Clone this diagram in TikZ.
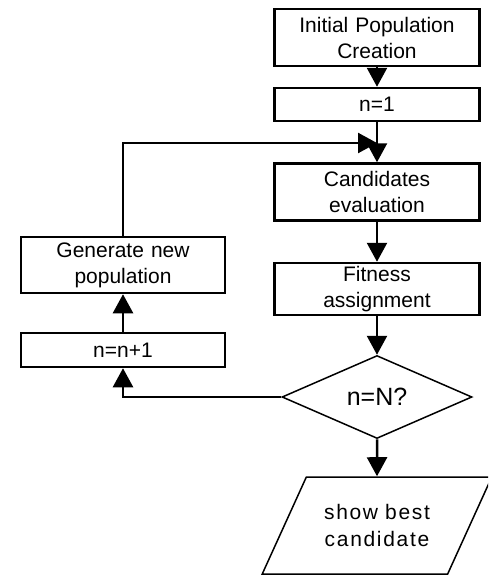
\documentclass[tikz,border=0pt]{standalone}
\usepackage{fontspec}
\setmainfont{Liberation Sans}
\usetikzlibrary{shapes.geometric, arrows.meta, positioning}

\begin{document}
\begin{tikzpicture}[
    x=1pt, y=-1pt,
    >={Triangle[width=20pt, length=19pt]}, line width=2.5pt,
    process/.style={rectangle, draw=black, fill=white, text width=205pt, align=center, inner sep=0pt, font=\fontsize{21}{26}\selectfont},
    decision/.style={diamond, aspect=2.3, draw=black, fill=white, line width=1.5pt, minimum width=190pt, minimum height=83pt, inner sep=0pt, font=\fontsize{25}{30}\selectfont},
    result/.style={trapezium, trapezium left angle=51, trapezium right angle=129, trapezium stretches=true, draw=black, fill=white, line width=1.5pt, minimum width=230pt, minimum height=97pt, text width=110pt, align=center, inner sep=0pt, font=\fontsize{21}{27}\selectfont\addfontfeature{LetterSpace=8}}
]
\useasboundingbox (0,0) rectangle (488,576);
\clip (0,0) rectangle (488,576);

% Main column
\node[process, minimum height=57pt] (init) at (377,37.5) {Initial Population\\Creation};
\node[process, minimum height=33pt] (n1) at (377,104.5) {n=1};
\node[process, minimum height=57pt] (cand) at (377,192) {Candidates\\evaluation};
\node[process, minimum height=52pt] (fit) at (377,289) {Fitness\\assignment};
\node[decision] (check) at (377,397) {n=N?};
\node[result] (show) at (377,525.5) {show best\\candidate};
\coordinate (join) at (377,143);

% Loop column
\node[process, text width=204pt, minimum height=56pt] (gen) at (123,265) {Generate new\\population};
\node[process, text width=204pt, minimum height=34pt] (inc) at (123,350) {n=n+1};

% Connections
\draw[->] (init) -- (n1);
\draw[->] (n1) -- (cand);
\draw[->] (cand) -- (fit);
\draw[->] (fit) -- (check);
\draw[->] (check) -- (show);
\draw[->] (check) -| (inc);
\draw[->] (inc) -- (gen);
\draw[->] (gen) |- (join);
\end{tikzpicture}
\end{document}
